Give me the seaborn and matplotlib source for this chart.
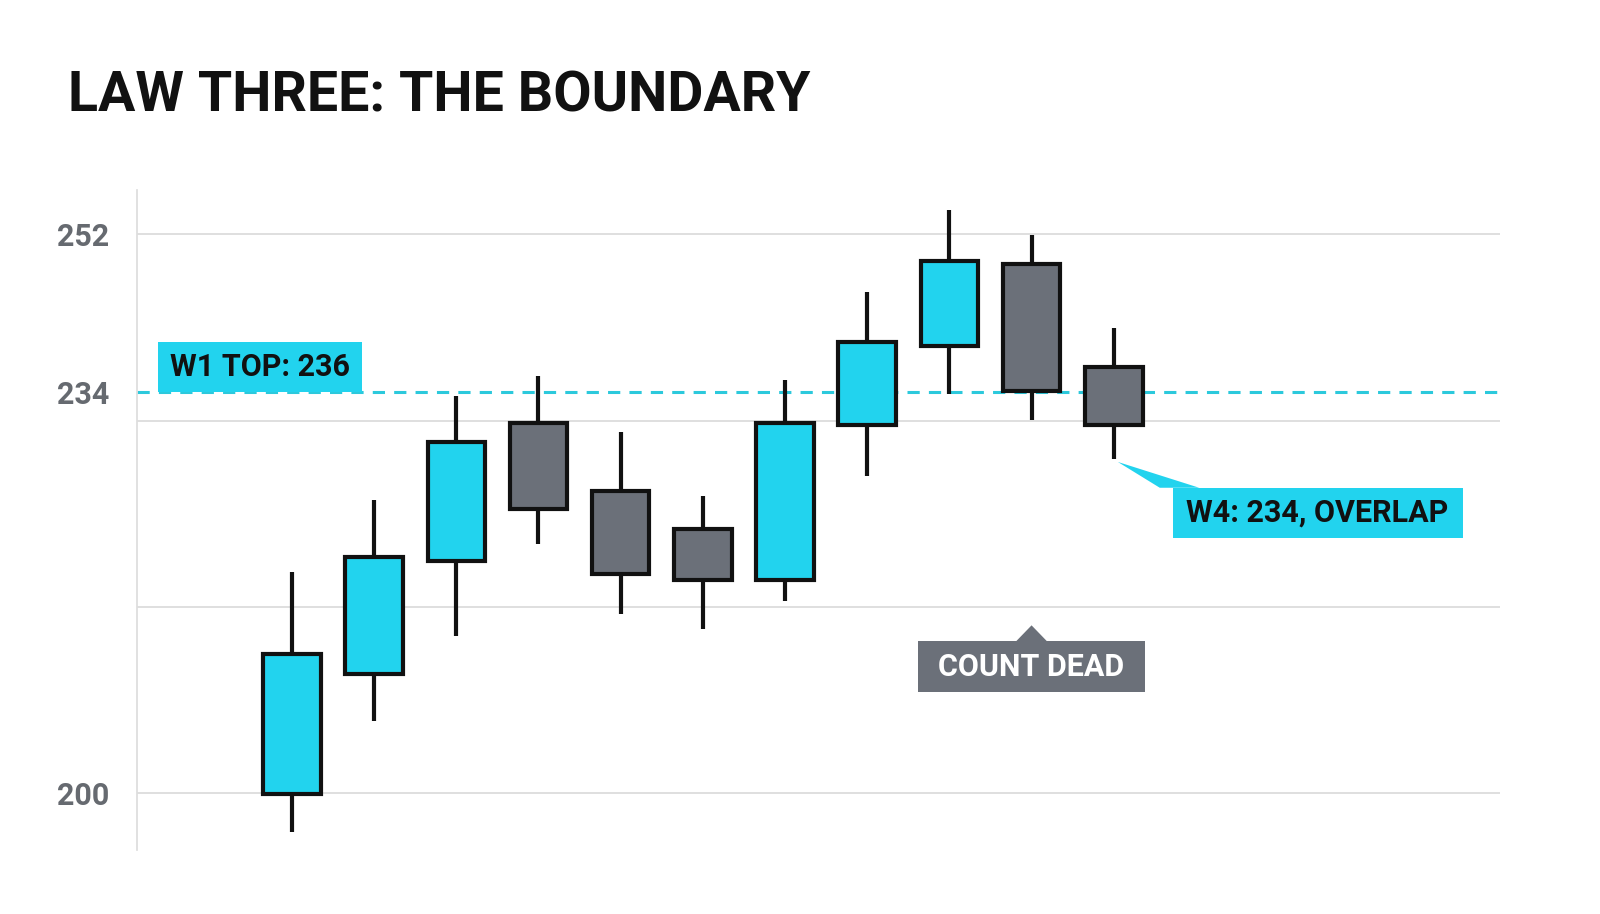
import matplotlib
matplotlib.use("Agg")
import matplotlib.pyplot as plt
import seaborn as sns
import numpy as np
from matplotlib.patches import Rectangle, Polygon

opens  = [199.9, 211.1, 221.6, 234.4, 228.1, 224.6, 219.8, 234.2, 241.6, 249.2, 239.6]
closes = [212.9, 222.0, 232.7, 226.4, 220.4, 219.8, 234.4, 242.0, 249.5, 237.4, 234.2]
highs  = [220.6, 227.3, 236.9, 238.8, 233.6, 227.6, 238.4, 246.6, 254.2, 251.9, 243.3]
lows   = [196.4, 206.7, 214.6, 223.2, 216.7, 215.3, 217.9, 229.5, 237.1, 234.7, 231.1]
grid_levels = [200, 217.3, 234.6, 252]
tick_vals = [200, 237.3, 252]
tick_labels = ["200", "234", "252"]
w1_top = 237.3

CYAN = "#22d3ee"; GRAY = "#6b7079"; EDGE = "#111111"

sns.set_theme(style="white")
plt.rcParams['font.family'] = ['Roboto', 'DejaVu Sans']
fig = plt.figure(figsize=(16, 9.14), dpi=100)
ax = fig.add_axes([137/1600, 1-850/914, (1500-137)/1600, (850-190)/914])
ax.set_xlim(-1.885, 14.70)
ax.set_ylim(194.7, 256.1)

for g in grid_levels:
    ax.axhline(g, color="#dcdcdc", lw=1.3, zorder=0)
ax.axhline(w1_top, color="#2cc9dc", lw=2.2, ls=(0, (4, 3)), zorder=1)

x = np.arange(len(opens))
w = 0.7
for i in x:
    ax.vlines(i, lows[i], highs[i], color=EDGE, lw=3, zorder=2)
    lo, hi = min(opens[i], closes[i]), max(opens[i], closes[i])
    c = CYAN if closes[i] > opens[i] else GRAY
    ax.add_patch(Rectangle((i - w/2, lo), w, hi - lo, facecolor=c, edgecolor=EDGE, lw=3, zorder=3))

for s in ["top", "right", "bottom"]:
    ax.spines[s].set_visible(False)
ax.spines["left"].set_color("#dddddd")
ax.set_xticks([])
ax.set_yticks(tick_vals)
ax.set_yticklabels(tick_labels, fontsize=22, fontweight="bold", color="#666a70")
ax.tick_params(axis="y", length=0, pad=20)

# W1 label
ax.add_patch(Rectangle((-1.63, 237.3), 2.48, 4.7, facecolor=CYAN, edgecolor="none", zorder=4, clip_on=False))
ax.text(-0.39, 239.6, "W1 TOP: 236", ha="center", va="center", fontsize=22, fontweight="bold", color="#111", zorder=5)
# W4 label
ax.add_patch(Rectangle((10.72, 223.7), 3.53, 4.7, facecolor=CYAN, edgecolor="none", zorder=4))
ax.add_patch(Polygon([(10.05, 230.8), (10.56, 228.4), (11.04, 228.4)], facecolor=CYAN, edgecolor="none", zorder=4))
ax.text(12.48, 226.05, "W4: 234, OVERLAP", ha="center", va="center", fontsize=22, fontweight="bold", color="#111", zorder=5)
# COUNT DEAD
ax.add_patch(Rectangle((7.62, 209.4), 2.76, 4.7, facecolor=GRAY, edgecolor="none", zorder=4))
ax.add_patch(Polygon([(8.81, 214.1), (9.0, 215.6), (9.19, 214.1)], facecolor=GRAY, edgecolor="none", zorder=4))
ax.text(9.0, 211.75, "COUNT DEAD", ha="center", va="center", fontsize=22, fontweight="bold", color="white", zorder=5)

fig.text(68/1600, 1-97/914, "LAW THREE: THE BOUNDARY", fontsize=40, fontweight="bold", color="#111", va="center", ha="left")
fig.savefig("out.png", dpi=100, facecolor="white")
